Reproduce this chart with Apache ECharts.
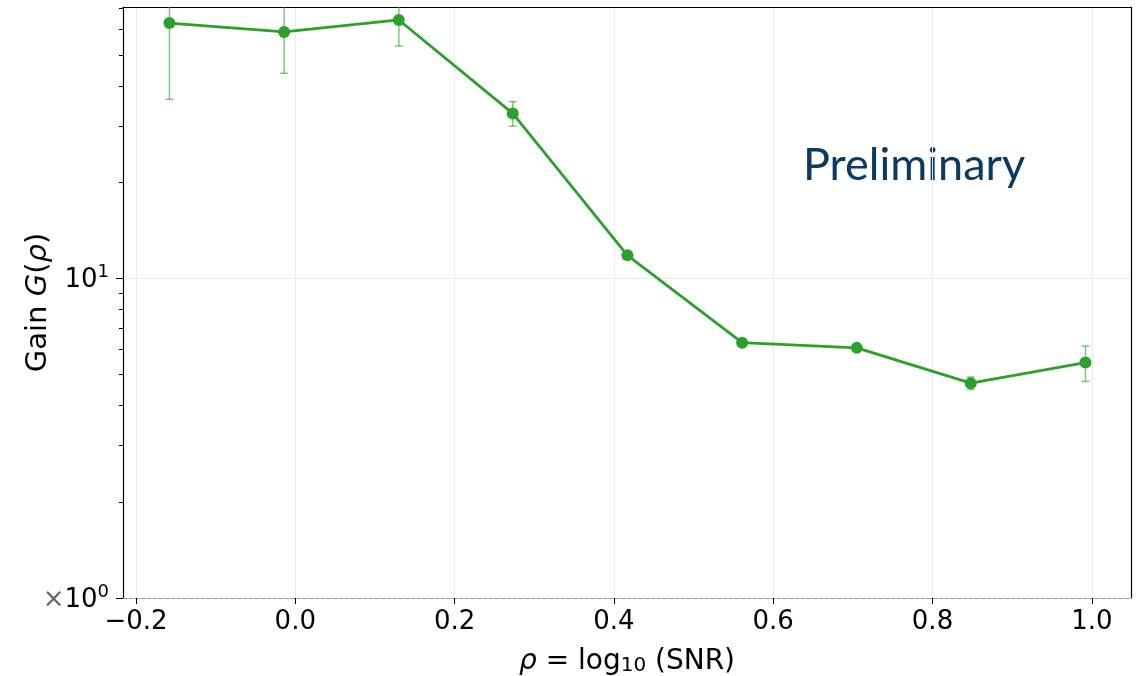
<!DOCTYPE html>
<html>
<head>
<meta charset="utf-8">
<script src="https://cdn.jsdelivr.net/npm/echarts@6/dist/echarts.min.js"></script>
<style>
  html, body { margin: 0; padding: 0; background: #fff; }
  #main { width: 1138px; height: 676px; }
</style>
</head>
<body>
<div id="main"></div>
<script>
// rho = log10(SNR)
const rho = [-0.158, -0.014, 0.130, 0.273, 0.417, 0.561, 0.705, 0.848, 0.992]
const gain = [62.9, 59.0, 64.3, 32.8, 11.8, 6.29, 6.06, 4.70, 5.45]
const gainErr = [26.6, 15.2, 11.0, 2.9, 0.3, 0.1, 0.1, 0.21, 0.69]
const xTicks = [-0.2, 0.0, 0.2, 0.4, 0.6, 0.8, 1.0]
const yMajor = [1, 10]
const yMinor = [2, 3, 4, 5, 6, 7, 8, 9, 20, 30, 40, 50, 60, 70]

const X_MIN = -0.2163
const X_MAX = 1.0492
const Y_MIN = 1
const Y_MAX = 70.6
const green = '#2ca02c'
const font = 'DejaVu Sans'

const chart = echarts.init(document.getElementById('main'), null, { renderer: 'canvas' })

const errData = rho.map((x, i) => [x, gain[i] - gainErr[i], gain[i] + gainErr[i]])

const option = {
  backgroundColor: '#fff',
  animation: false,
  grid: { left: 123, right: 7, top: 7, bottom: 78, containLabel: false, outerBoundsMode: 'none' },
  xAxis: [
    {
      type: 'value',
      min: X_MIN,
      max: X_MAX,
      name: '{i|ρ} = log{sub|10} (SNR)',
      nameLocation: 'middle',
      nameGap: 50,
      nameMoveOverlap: false,
      nameTextStyle: {
        fontFamily: font,
        fontSize: 28,
        color: '#000',
        rich: {
          i: { fontFamily: font, fontSize: 28, fontStyle: 'italic', color: '#000' },
          sub: { fontFamily: font, fontSize: 20, color: '#000', verticalAlign: 'bottom', lineHeight: 24 }
        }
      },
      axisLine: { show: true, onZero: false, lineStyle: { color: '#999', type: 'dashed', width: 1 } },
      axisTick: { show: true, customValues: xTicks, length: 6, lineStyle: { color: '#000', width: 1 } },
      axisLabel: {
        customValues: xTicks,
        fontFamily: font,
        fontSize: 26,
        color: '#000',
        margin: 11,
        formatter: v => (v < 0 ? '−' : '') + Math.abs(v).toFixed(1)
      },
      splitLine: { show: true, lineStyle: { color: '#ebebeb', width: 1 } }
    },
    {
      // top spine
      type: 'value',
      position: 'top',
      min: X_MIN,
      max: X_MAX,
      axisLine: { show: true, onZero: false, lineStyle: { color: '#000', width: 1.2 } },
      axisTick: { show: false },
      axisLabel: { show: false },
      splitLine: { show: false }
    }
  ],
  yAxis: [
    {
      type: 'log',
      logBase: 10,
      min: Y_MIN,
      max: Y_MAX,
      name: 'Gain {i|G}({i|ρ})',
      nameLocation: 'middle',
      nameGap: 70,
      nameMoveOverlap: false,
      nameTextStyle: {
        fontFamily: font,
        fontSize: 29,
        color: '#000',
        rich: {
          i: { fontFamily: font, fontSize: 29, fontStyle: 'italic', color: '#000' }
        }
      },
      axisLine: { show: true, onZero: false, lineStyle: { color: '#000', width: 1.2 } },
      axisTick: { show: true, customValues: yMajor, length: 7, lineStyle: { color: '#000', width: 1 } },
      axisLabel: {
        customValues: yMajor,
        margin: 14,
        fontFamily: font,
        color: '#000',
        formatter: v => {
          const e = Math.round(Math.log10(v))
          return (e === 0 ? '{x|×}' : '') + '{b|10}{s|' + e + '}'
        },
        rich: {
          x: { fontFamily: font, fontSize: 26, color: '#666', lineHeight: 30, verticalAlign: 'bottom' },
          b: { fontFamily: font, fontSize: 26, color: '#000', lineHeight: 30, verticalAlign: 'bottom' },
          s: { fontFamily: font, fontSize: 18, color: '#000', lineHeight: 18, verticalAlign: 'top' }
        }
      },
      splitLine: { show: true, lineStyle: { color: '#ebebeb', width: 1 } }
    },
    {
      // minor ticks
      type: 'log',
      logBase: 10,
      min: Y_MIN,
      max: Y_MAX,
      position: 'left',
      axisLine: { show: false, onZero: false },
      axisTick: { show: true, customValues: yMinor, length: 4, lineStyle: { color: '#000', width: 1 } },
      axisLabel: { show: false },
      splitLine: { show: false }
    },
    {
      // right spine
      type: 'log',
      logBase: 10,
      min: Y_MIN,
      max: Y_MAX,
      position: 'right',
      axisLine: { show: true, onZero: false, lineStyle: { color: '#000', width: 1.2 } },
      axisTick: { show: false },
      axisLabel: { show: false },
      splitLine: { show: false }
    }
  ],
  graphic: [
    {
      type: 'text',
      left: 803,
      top: 143,
      style: {
        text: 'Preliminary',
        fontFamily: 'Lato',
        fontSize: 45,
        fill: '#0b3a60'
      }
    }
  ],
  series: [
    {
      name: 'error',
      type: 'custom',
      clip: true,
      z: 2,
      data: errData,
      encode: { x: 0, y: [1, 2] },
      renderItem: function (params, api) {
        const x = api.value(0)
        const lo = api.coord([x, api.value(1)])
        const hi = api.coord([x, api.value(2)])
        const cap = 4
        const style = { stroke: 'rgba(44,160,44,0.6)', lineWidth: 1.5 }
        return {
          type: 'group',
          children: [
            { type: 'line', shape: { x1: lo[0], y1: lo[1], x2: hi[0], y2: hi[1] }, style: style },
            { type: 'line', shape: { x1: lo[0] - cap, y1: lo[1], x2: lo[0] + cap, y2: lo[1] }, style: style },
            { type: 'line', shape: { x1: hi[0] - cap, y1: hi[1], x2: hi[0] + cap, y2: hi[1] }, style: style }
          ]
        }
      }
    },
    {
      name: 'gain',
      type: 'line',
      z: 3,
      data: rho.map((x, i) => [x, gain[i]]),
      symbol: 'circle',
      symbolSize: 12,
      itemStyle: { color: green },
      lineStyle: { color: green, width: 2.8 }
    }
  ]
}

chart.setOption(option)
</script>
</body>
</html>
